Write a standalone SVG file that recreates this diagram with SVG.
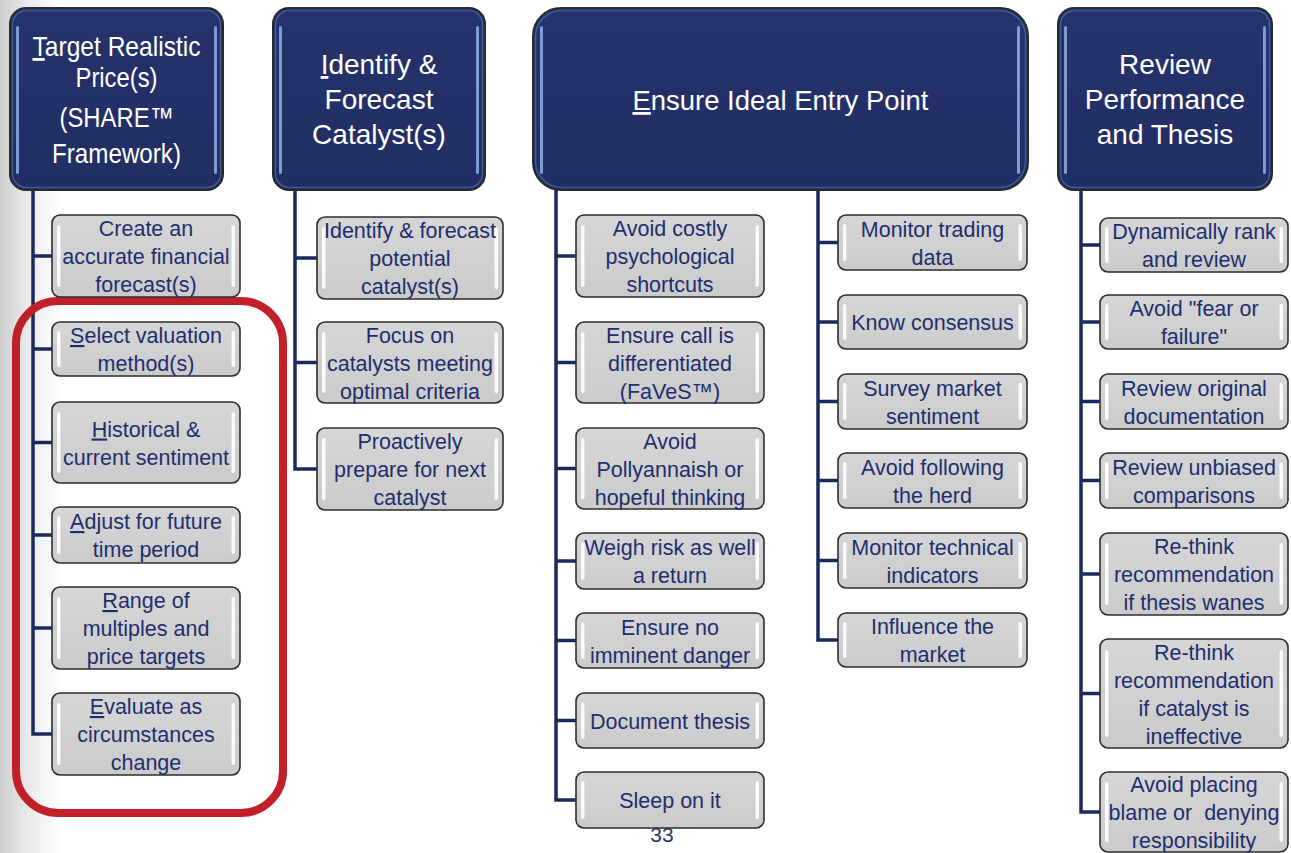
<svg xmlns="http://www.w3.org/2000/svg" width="1291" height="853" viewBox="0 0 1291 853">
<defs>
<linearGradient id="bg" x1="0" y1="0" x2="1" y2="0">
<stop offset="0" stop-color="#cdcdcd"/>
<stop offset="0.4" stop-color="#e6e7e7"/>
<stop offset="1" stop-color="#ffffff"/>
</linearGradient>
<linearGradient id="hdr" x1="0" y1="0" x2="0" y2="1">
<stop offset="0" stop-color="#26336c"/>
<stop offset="1" stop-color="#212e63"/>
</linearGradient>
<linearGradient id="box" x1="0" y1="0" x2="0" y2="1">
<stop offset="0" stop-color="#d6d6d6"/>
<stop offset="1" stop-color="#cbcbcb"/>
</linearGradient>
</defs>
<style>
.hd{fill:url(#hdr);stroke:#2a2a2a;stroke-width:2}
.hdin{fill:none;stroke:#3d5a98;stroke-width:1.5}
.hl{fill:#7e9ad2}
.bx{fill:url(#box);stroke:#2e2e2e;stroke-width:1.6}
.wh{fill:#ffffff;opacity:0.9}
.ht{font-family:"Liberation Sans",Arial,sans-serif;font-size:28px;fill:#ffffff;text-anchor:middle}
.bt{font-family:"Liberation Sans",Arial,sans-serif;font-size:21.5px;fill:#1f2f6e;text-anchor:middle}
.u{text-decoration:underline}
.cn{fill:none;stroke:#1b2a5e;stroke-width:3.5;stroke-linejoin:miter}
</style>
<rect x="0" y="0" width="1291" height="853" fill="#ffffff"/>
<rect x="0" y="0" width="60" height="853" fill="url(#bg)"/>

<text x="662" y="842" font-family="Liberation Sans, Arial, sans-serif" font-size="21" fill="#2b3a6b" text-anchor="middle">33</text>

<g id="connectors">
<path class="cn" d="M33 190 V734 H52 M33 256 H52 M33 349 H52 M33 442.5 H52 M33 535 H52 M33 628 H52"/>
<path class="cn" d="M295 190 V469 H317 M295 258 H317 M295 362.5 H317"/>
<path class="cn" d="M556 190 V800 H576 M556 256 H576 M556 362.5 H576 M556 468.5 H576 M556 561 H576 M556 640.5 H576 M556 720.5 H576"/>
<path class="cn" d="M818 190 V640 H838 M818 242.5 H838 M818 322 H838 M818 401.5 H838 M818 480.5 H838 M818 560.5 H838"/>
<path class="cn" d="M1081 190 V812 H1100 M1081 245 H1100 M1081 322 H1100 M1081 401.5 H1100 M1081 480.5 H1100 M1081 574 H1100 M1081 693.5 H1100"/>
</g>

<g id="red-highlight">
<rect x="16" y="301" width="267" height="512" rx="42" fill="none" stroke="#c1202b" stroke-width="8"/>
</g>

<g id="h1">
<rect class="hd" x="10" y="8" width="213" height="182" rx="16"/>
<rect class="hdin" x="12.5" y="10.5" width="208" height="177" rx="14"/>
<rect class="hl" x="16" y="26" width="3" height="148" rx="1.5"/>
<rect class="hl" x="214" y="26" width="3" height="148" rx="1.5"/>
<text class="ht" x="116.5" y="56" textLength="168" lengthAdjust="spacingAndGlyphs"><tspan class="u">T</tspan>arget Realistic</text>
<text class="ht" x="116.5" y="87" textLength="82" lengthAdjust="spacingAndGlyphs">Price(s)</text>
<text class="ht" x="116.5" y="127" textLength="114" lengthAdjust="spacingAndGlyphs">(SHARE™</text>
<text class="ht" x="116.5" y="163" textLength="129" lengthAdjust="spacingAndGlyphs">Framework)</text>
</g>

<g id="h2">
<rect class="hd" x="273" y="8" width="212" height="182" rx="16"/>
<rect class="hdin" x="275.5" y="10.5" width="207" height="177" rx="14"/>
<rect class="hl" x="279" y="26" width="3" height="148" rx="1.5"/>
<rect class="hl" x="476" y="26" width="3" height="148" rx="1.5"/>
<text class="ht" x="379" y="74"><tspan class="u">I</tspan>dentify &amp;</text>
<text class="ht" x="379" y="109">Forecast</text>
<text class="ht" x="379" y="144">Catalyst(s)</text>
</g>

<g id="h3">
<rect class="hd" x="533" y="8" width="495" height="182" rx="28"/>
<rect class="hdin" x="535.5" y="10.5" width="490" height="177" rx="26"/>
<rect class="hl" x="540" y="26" width="3" height="148" rx="1.5"/>
<rect class="hl" x="1017" y="26" width="3" height="148" rx="1.5"/>
<text class="ht" x="780.5" y="110" textLength="296" lengthAdjust="spacingAndGlyphs"><tspan class="u">E</tspan>nsure Ideal Entry Point</text>
</g>

<g id="h4">
<rect class="hd" x="1058" y="8" width="214" height="182" rx="16"/>
<rect class="hdin" x="1060.5" y="10.5" width="209" height="177" rx="14"/>
<rect class="hl" x="1064" y="26" width="3" height="148" rx="1.5"/>
<rect class="hl" x="1263" y="26" width="3" height="148" rx="1.5"/>
<text class="ht" x="1165" y="74">Review</text>
<text class="ht" x="1165" y="109">Performance</text>
<text class="ht" x="1165" y="144">and Thesis</text>
</g>

<!-- Column 1 -->
<g id="c1-1"><rect class="bx" x="52" y="215" width="188" height="82" rx="8"/><rect class="wh" x="57" y="225" width="3.5" height="62" rx="1.7"/><rect class="wh" x="231.5" y="225" width="3.5" height="62" rx="1.7"/>
<text class="bt" x="146" y="236">Create an</text><text class="bt" x="146" y="264">accurate financial</text><text class="bt" x="146" y="292">forecast(s)</text></g>
<g id="c1-2"><rect class="bx" x="52" y="322" width="188" height="54" rx="8"/><rect class="wh" x="57" y="331" width="3.5" height="36" rx="1.7"/><rect class="wh" x="231.5" y="331" width="3.5" height="36" rx="1.7"/>
<text class="bt" x="146" y="343"><tspan class="u">S</tspan>elect valuation</text><text class="bt" x="146" y="371">method(s)</text></g>
<g id="c1-3"><rect class="bx" x="52" y="402" width="188" height="81" rx="8"/><rect class="wh" x="57" y="412" width="3.5" height="61" rx="1.7"/><rect class="wh" x="231.5" y="412" width="3.5" height="61" rx="1.7"/>
<text class="bt" x="146" y="436.5"><tspan class="u">H</tspan>istorical &amp;</text><text class="bt" x="146" y="464.5">current sentiment</text></g>
<g id="c1-4"><rect class="bx" x="52" y="507" width="188" height="56" rx="8"/><rect class="wh" x="57" y="516" width="3.5" height="38" rx="1.7"/><rect class="wh" x="231.5" y="516" width="3.5" height="38" rx="1.7"/>
<text class="bt" x="146" y="529"><tspan class="u">A</tspan>djust for future</text><text class="bt" x="146" y="557">time period</text></g>
<g id="c1-5"><rect class="bx" x="52" y="587" width="188" height="82" rx="8"/><rect class="wh" x="57" y="597" width="3.5" height="62" rx="1.7"/><rect class="wh" x="231.5" y="597" width="3.5" height="62" rx="1.7"/>
<text class="bt" x="146" y="608"><tspan class="u">R</tspan>ange of</text><text class="bt" x="146" y="636">multiples and</text><text class="bt" x="146" y="664">price targets</text></g>
<g id="c1-6"><rect class="bx" x="52" y="693" width="188" height="82" rx="8"/><rect class="wh" x="57" y="703" width="3.5" height="62" rx="1.7"/><rect class="wh" x="231.5" y="703" width="3.5" height="62" rx="1.7"/>
<text class="bt" x="146" y="714"><tspan class="u">E</tspan>valuate as</text><text class="bt" x="146" y="742">circumstances</text><text class="bt" x="146" y="770">change</text></g>

<!-- Column 2 -->
<g id="c2-1"><rect class="bx" x="317" y="217" width="186" height="82" rx="8"/><rect class="wh" x="322" y="227" width="3.5" height="62" rx="1.7"/><rect class="wh" x="494.5" y="227" width="3.5" height="62" rx="1.7"/>
<text class="bt" x="410" y="238">Identify &amp; forecast</text><text class="bt" x="410" y="266">potential</text><text class="bt" x="410" y="294">catalyst(s)</text></g>
<g id="c2-2"><rect class="bx" x="317" y="322" width="186" height="81" rx="8"/><rect class="wh" x="322" y="332" width="3.5" height="61" rx="1.7"/><rect class="wh" x="494.5" y="332" width="3.5" height="61" rx="1.7"/>
<text class="bt" x="410" y="342.5">Focus on</text><text class="bt" x="410" y="370.5">catalysts meeting</text><text class="bt" x="410" y="398.5">optimal criteria</text></g>
<g id="c2-3"><rect class="bx" x="317" y="428" width="186" height="82" rx="8"/><rect class="wh" x="322" y="438" width="3.5" height="62" rx="1.7"/><rect class="wh" x="494.5" y="438" width="3.5" height="62" rx="1.7"/>
<text class="bt" x="410" y="449">Proactively</text><text class="bt" x="410" y="477">prepare for next</text><text class="bt" x="410" y="505">catalyst</text></g>

<!-- Column 3a -->
<g id="c3-1"><rect class="bx" x="576" y="215" width="188" height="82" rx="8"/><rect class="wh" x="581" y="225" width="3.5" height="62" rx="1.7"/><rect class="wh" x="755.5" y="225" width="3.5" height="62" rx="1.7"/>
<text class="bt" x="670" y="236">Avoid costly</text><text class="bt" x="670" y="264">psychological</text><text class="bt" x="670" y="292">shortcuts</text></g>
<g id="c3-2"><rect class="bx" x="576" y="322" width="188" height="81" rx="8"/><rect class="wh" x="581" y="332" width="3.5" height="61" rx="1.7"/><rect class="wh" x="755.5" y="332" width="3.5" height="61" rx="1.7"/>
<text class="bt" x="670" y="342.5">Ensure call is</text><text class="bt" x="670" y="370.5">differentiated</text><text class="bt" x="670" y="398.5">(FaVeS™)</text></g>
<g id="c3-3"><rect class="bx" x="576" y="428" width="188" height="81" rx="8"/><rect class="wh" x="581" y="438" width="3.5" height="61" rx="1.7"/><rect class="wh" x="755.5" y="438" width="3.5" height="61" rx="1.7"/>
<text class="bt" x="670" y="448.5">Avoid</text><text class="bt" x="670" y="476.5">Pollyannaish or</text><text class="bt" x="670" y="504.5">hopeful thinking</text></g>
<g id="c3-4"><rect class="bx" x="576" y="533" width="188" height="56" rx="8"/><rect class="wh" x="581" y="542" width="3.5" height="38" rx="1.7"/><rect class="wh" x="755.5" y="542" width="3.5" height="38" rx="1.7"/>
<text class="bt" x="670" y="555">Weigh risk as well</text><text class="bt" x="670" y="583">a return</text></g>
<g id="c3-5"><rect class="bx" x="576" y="613" width="188" height="55" rx="8"/><rect class="wh" x="581" y="622" width="3.5" height="37" rx="1.7"/><rect class="wh" x="755.5" y="622" width="3.5" height="37" rx="1.7"/>
<text class="bt" x="670" y="634.5">Ensure no</text><text class="bt" x="670" y="662.5">imminent danger</text></g>
<g id="c3-6"><rect class="bx" x="576" y="693" width="188" height="55" rx="8"/><rect class="wh" x="581" y="702" width="3.5" height="37" rx="1.7"/><rect class="wh" x="755.5" y="702" width="3.5" height="37" rx="1.7"/>
<text class="bt" x="670" y="728.5">Document thesis</text></g>
<g id="c3-7"><rect class="bx" x="576" y="772" width="188" height="56" rx="8"/><rect class="wh" x="581" y="781" width="3.5" height="38" rx="1.7"/><rect class="wh" x="755.5" y="781" width="3.5" height="38" rx="1.7"/>
<text class="bt" x="670" y="808">Sleep on it</text></g>

<!-- Column 3b -->
<g id="c3b-1"><rect class="bx" x="838" y="215" width="189" height="55" rx="8"/><rect class="wh" x="843" y="224" width="3.5" height="37" rx="1.7"/><rect class="wh" x="1018.5" y="224" width="3.5" height="37" rx="1.7"/>
<text class="bt" x="932.5" y="236.5">Monitor trading</text><text class="bt" x="932.5" y="264.5">data</text></g>
<g id="c3b-2"><rect class="bx" x="838" y="295" width="189" height="54" rx="8"/><rect class="wh" x="843" y="304" width="3.5" height="36" rx="1.7"/><rect class="wh" x="1018.5" y="304" width="3.5" height="36" rx="1.7"/>
<text class="bt" x="932.5" y="330">Know consensus</text></g>
<g id="c3b-3"><rect class="bx" x="838" y="374" width="189" height="55" rx="8"/><rect class="wh" x="843" y="383" width="3.5" height="37" rx="1.7"/><rect class="wh" x="1018.5" y="383" width="3.5" height="37" rx="1.7"/>
<text class="bt" x="932.5" y="395.5">Survey market</text><text class="bt" x="932.5" y="423.5">sentiment</text></g>
<g id="c3b-4"><rect class="bx" x="838" y="453" width="189" height="55" rx="8"/><rect class="wh" x="843" y="462" width="3.5" height="37" rx="1.7"/><rect class="wh" x="1018.5" y="462" width="3.5" height="37" rx="1.7"/>
<text class="bt" x="932.5" y="474.5">Avoid following</text><text class="bt" x="932.5" y="502.5">the herd</text></g>
<g id="c3b-5"><rect class="bx" x="838" y="533" width="189" height="55" rx="8"/><rect class="wh" x="843" y="542" width="3.5" height="37" rx="1.7"/><rect class="wh" x="1018.5" y="542" width="3.5" height="37" rx="1.7"/>
<text class="bt" x="932.5" y="554.5">Monitor technical</text><text class="bt" x="932.5" y="582.5">indicators</text></g>
<g id="c3b-6"><rect class="bx" x="838" y="613" width="189" height="54" rx="8"/><rect class="wh" x="843" y="622" width="3.5" height="36" rx="1.7"/><rect class="wh" x="1018.5" y="622" width="3.5" height="36" rx="1.7"/>
<text class="bt" x="932.5" y="634">Influence the</text><text class="bt" x="932.5" y="662">market</text></g>

<!-- Column 4 -->
<g id="c4-1"><rect class="bx" x="1100" y="218" width="188" height="54" rx="8"/><rect class="wh" x="1105" y="227" width="3.5" height="36" rx="1.7"/><rect class="wh" x="1279.5" y="227" width="3.5" height="36" rx="1.7"/>
<text class="bt" x="1194" y="239">Dynamically rank</text><text class="bt" x="1194" y="267">and review</text></g>
<g id="c4-2"><rect class="bx" x="1100" y="295" width="188" height="54" rx="8"/><rect class="wh" x="1105" y="304" width="3.5" height="36" rx="1.7"/><rect class="wh" x="1279.5" y="304" width="3.5" height="36" rx="1.7"/>
<text class="bt" x="1194" y="316">Avoid "fear or</text><text class="bt" x="1194" y="344">failure"</text></g>
<g id="c4-3"><rect class="bx" x="1100" y="374" width="188" height="55" rx="8"/><rect class="wh" x="1105" y="383" width="3.5" height="37" rx="1.7"/><rect class="wh" x="1279.5" y="383" width="3.5" height="37" rx="1.7"/>
<text class="bt" x="1194" y="395.5">Review original</text><text class="bt" x="1194" y="423.5">documentation</text></g>
<g id="c4-4"><rect class="bx" x="1100" y="453" width="188" height="55" rx="8"/><rect class="wh" x="1105" y="462" width="3.5" height="37" rx="1.7"/><rect class="wh" x="1279.5" y="462" width="3.5" height="37" rx="1.7"/>
<text class="bt" x="1194" y="474.5">Review unbiased</text><text class="bt" x="1194" y="502.5">comparisons</text></g>
<g id="c4-5"><rect class="bx" x="1100" y="533" width="188" height="82" rx="8"/><rect class="wh" x="1105" y="543" width="3.5" height="62" rx="1.7"/><rect class="wh" x="1279.5" y="543" width="3.5" height="62" rx="1.7"/>
<text class="bt" x="1194" y="554">Re-think</text><text class="bt" x="1194" y="582">recommendation</text><text class="bt" x="1194" y="610">if thesis wanes</text></g>
<g id="c4-6"><rect class="bx" x="1100" y="639" width="188" height="109" rx="8"/><rect class="wh" x="1105" y="650" width="3.5" height="87" rx="1.7"/><rect class="wh" x="1279.5" y="650" width="3.5" height="87" rx="1.7"/>
<text class="bt" x="1194" y="659.5">Re-think</text><text class="bt" x="1194" y="687.5">recommendation</text><text class="bt" x="1194" y="715.5">if catalyst is</text><text class="bt" x="1194" y="743.5">ineffective</text></g>
<g id="c4-7"><rect class="bx" x="1100" y="772" width="188" height="80" rx="8"/><rect class="wh" x="1105" y="782" width="3.5" height="60" rx="1.7"/><rect class="wh" x="1279.5" y="782" width="3.5" height="60" rx="1.7"/>
<text class="bt" x="1194" y="792">Avoid placing</text><text class="bt" x="1194" y="820" style="white-space:pre">blame or  denying</text><text class="bt" x="1194" y="848">responsibility</text></g>
</svg>
